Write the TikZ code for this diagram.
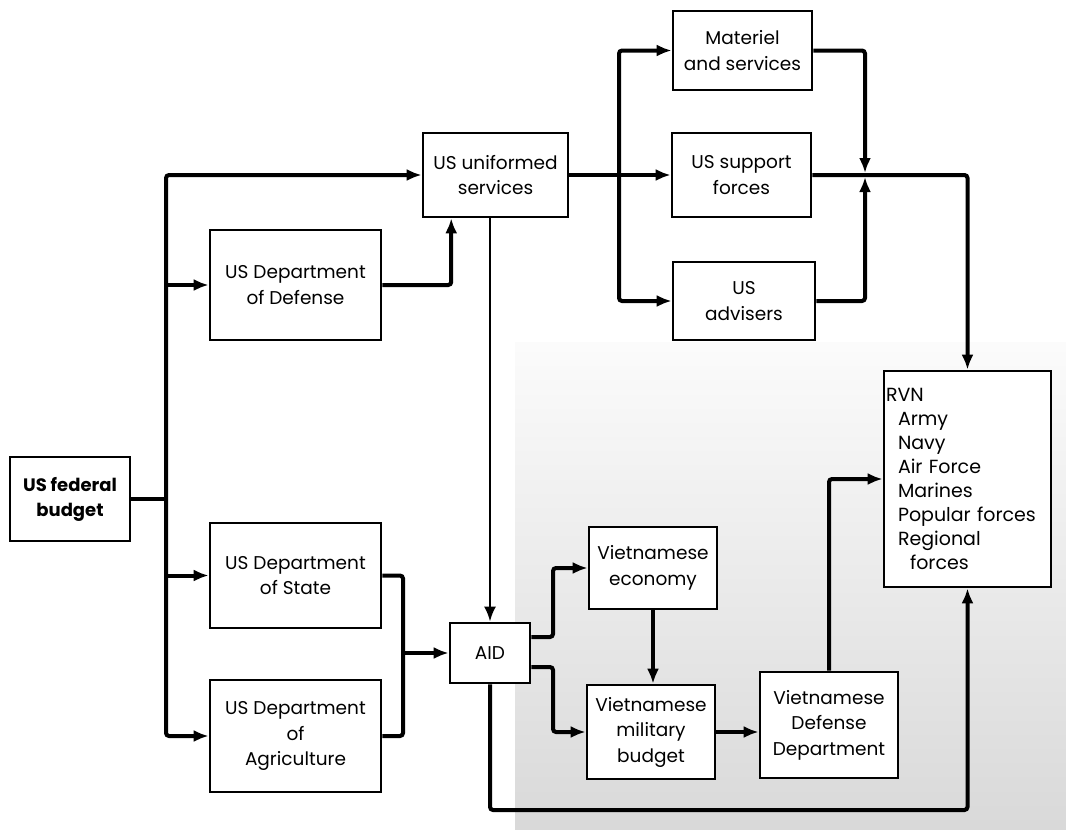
\documentclass[tikz,border=0pt]{standalone}
\usepackage{fontspec}
\setmainfont{Poppins}
\usetikzlibrary{arrows.meta,calc}
\begin{document}
\begin{tikzpicture}[x=1pt,y=-1pt,
  box/.style={draw,line width=2.6pt,fill=white,align=center,inner sep=0pt,
    font=\fontsize{18.5}{25.5}\selectfont},
  tip/.style={-{Latex[length=15pt,width=12pt]}},
  flow/.style={line width=4pt,rounded corners=3pt},
  lightflow/.style={line width=2.8pt,rounded corners=3pt}]
\useasboundingbox (0,0) rectangle (1066,830);
\shade[top color=gray!3,bottom color=gray!30] (515,342) rectangle (1066,830);

% boxes
\node[box,minimum width=120pt,minimum height=84pt,font=\fontsize{18}{25}\selectfont\bfseries] (budget) at (70,499) {US federal\\budget};
\node[box,minimum width=171pt,minimum height=110pt] (dod) at (295.5,285) {US Department\\of Defense};
\node[box,minimum width=171pt,minimum height=105pt] (state) at (295.5,575.5) {US Department\\of State};
\node[box,minimum width=171pt,minimum height=112pt] (agri) at (295.5,736) {US Department\\of\\Agriculture};
\node[box,minimum width=145pt,minimum height=84pt] (unif) at (495.5,175) {US uniformed\\services};
\node[box,minimum width=139pt,minimum height=79pt] (mat) at (742.5,50.5) {Materiel\\and services};
\node[box,minimum width=139pt,minimum height=84pt] (sup) at (741.5,175) {US support\\forces};
\node[box,minimum width=142pt,minimum height=78pt] (adv) at (744,301) {US\\advisers};
\node[box,minimum width=80pt,minimum height=60pt] (aid) at (490,653) {AID};
\node[box,minimum width=128pt,minimum height=82pt] (econ) at (653,568) {Vietnamese\\economy};
\node[box,minimum width=128pt,minimum height=94pt] (mil) at (651,732) {Vietnamese\\military\\budget};
\node[box,minimum width=138pt,minimum height=106pt] (vdd) at (829,725) {Vietnamese\\Defense\\Department};
\node[box,minimum width=167pt,minimum height=216pt,align=left,text width=163pt,
  font=\fontsize{19}{24}\selectfont] (rvn) at (967.5,479)
  {RVN\\\hspace*{12pt}Army\\\hspace*{12pt}Navy\\\hspace*{12pt}Air Force\\\hspace*{12pt}Marines\\\hspace*{12pt}Popular forces\\\hspace*{12pt}Regional\\\hspace*{24pt}forces};

% junction points
\coordinate (tr) at (166,499);
\coordinate (br) at (619,175);
\coordinate (jn) at (865,175);
\coordinate (sj) at (403,653);
\coordinate (ej) at (553,637);
\coordinate (mj) at (553,667);

% US federal budget fan-out
\draw[flow] (budget.east) -- (tr);
\draw[flow,tip] (tr) |- (unif.west);
\draw[flow,tip] (tr) |- (agri.west);
\draw[flow,tip] (tr |- dod.west) -- (dod.west);
\draw[flow,tip] (tr |- state.west) -- (state.west);

% DoD to uniformed services
\draw[flow,tip] (dod.east) -| ($(unif.south west)!0.2!(unif.south east)$);

% uniformed services outputs
\draw[flow,tip] (unif.east) -- (sup.west);
\draw[flow,tip] (br) |- (mat.west);
\draw[flow,tip] (br) |- (adv.west);
\draw[flow,tip,shorten >=2pt] (mat.east) -| (jn);
\draw[flow,tip,shorten >=2pt] (adv.east) -| (jn);
\draw[flow,tip] (sup.east) -| (rvn.north);

% State and Agriculture into AID
\draw[flow] (state.east) -| (sj) |- (agri.east);
\draw[flow,tip] (sj) -- (aid.west);
\draw[lightflow,tip] (aid.north |- unif.south) -- (aid.north);

% AID outputs
\draw[flow,tip] (aid.east |- ej) -- (ej) |- (econ.west);
\draw[flow,tip] (aid.east |- mj) -- (mj) |- (mil.west);
\draw[flow,tip] (econ.south) -- (econ.south |- mil.north);
\draw[flow,tip] (mil.east) -- (mil.east -| vdd.west);
\draw[flow,tip] (vdd.north) |- (rvn.west);
\draw[flow,tip] (aid.south) -- (aid.south |- 0,810) -| (rvn.south);
\end{tikzpicture}
\end{document}
